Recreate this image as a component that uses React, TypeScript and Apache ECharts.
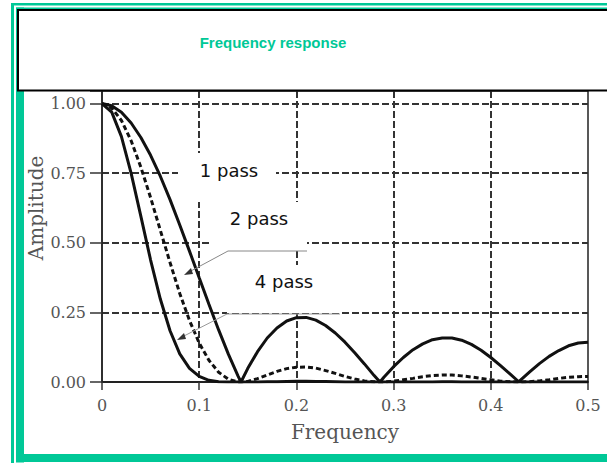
import React, { useEffect, useRef } from "react";
import * as echarts from "echarts";

// Normalised frequency samples (fraction of the sampling rate)
const freq = [
  0, 0.01, 0.02, 0.03, 0.04, 0.05, 0.06, 0.07, 0.08, 0.09, 0.1, 0.11, 0.12, 0.13, 0.14, 0.143,
  0.15, 0.16, 0.17, 0.18, 0.19, 0.2, 0.21, 0.22, 0.23, 0.24, 0.25, 0.26, 0.27, 0.28, 0.286,
  0.29, 0.3, 0.31, 0.32, 0.33, 0.34, 0.35, 0.36, 0.37, 0.38, 0.39, 0.4, 0.41, 0.42, 0.429,
  0.43, 0.44, 0.45, 0.46, 0.47, 0.48, 0.49, 0.5,
];

// Amplitude of the moving-average filter after one pass
const onePass = [
  1.0, 0.992, 0.969, 0.93, 0.878, 0.814, 0.739, 0.655, 0.564, 0.47, 0.374, 0.279, 0.187, 0.1, 0.021, 0,
  0.049, 0.109, 0.158, 0.194, 0.219, 0.231, 0.232, 0.222, 0.203, 0.176, 0.143, 0.105, 0.065, 0.023, 0,
  0.017, 0.055, 0.088, 0.116, 0.137, 0.152, 0.158, 0.158, 0.15, 0.135, 0.114, 0.088, 0.059, 0.028, 0,
  0.005, 0.036, 0.066, 0.092, 0.113, 0.13, 0.14, 0.143,
];

// Amplitude after two passes
const twoPass = [
  1.0, 0.984, 0.939, 0.866, 0.771, 0.662, 0.545, 0.429, 0.318, 0.221, 0.14, 0.078, 0.035, 0.01, 0.0, 0,
  0.002, 0.012, 0.025, 0.038, 0.048, 0.053, 0.054, 0.05, 0.041, 0.031, 0.02, 0.011, 0.004, 0.001, 0,
  0.0, 0.003, 0.008, 0.013, 0.019, 0.023, 0.025, 0.025, 0.022, 0.018, 0.013, 0.008, 0.003, 0.001, 0,
  0.0, 0.001, 0.004, 0.008, 0.013, 0.017, 0.019, 0.02,
];

// Amplitude after four passes
const fourPass = [
  1.0, 0.969, 0.881, 0.749, 0.595, 0.438, 0.298, 0.184, 0.101, 0.049, 0.02, 0.006, 0.001, 0.0, 0.0, 0,
  0, 0, 0.001, 0.001, 0.002, 0.003, 0.003, 0.002, 0.002, 0.001, 0, 0, 0, 0, 0,
  0, 0, 0, 0, 0, 0, 0.001, 0.001, 0, 0, 0, 0, 0, 0, 0,
  0, 0, 0, 0, 0, 0, 0, 0,
];

const yTicks = [0, 0.25, 0.5, 0.75, 1.0];
const passLabels = ["1 pass", "2 pass", "4 pass"];
const chartTitle = "Frequency response";

const GREEN = "#00c897";
const INK = "#111";
const SERIF = "'DejaVu Serif', 'Liberation Serif', serif";
const SANS = "'DejaVu Sans', 'Noto Sans', sans-serif";

function pairs(ys: number[]) {
  return freq.map((f, i) => [f, ys[i]]);
}

// white callout panel with its caption
function labelBox(text: string, x: number, y: number, w: number, h: number, cx: number, cy: number) {
  return {
    type: "group",
    z: 100,
    children: [
      { type: "rect", shape: { x, y, width: w, height: h }, style: { fill: "#fff" }, z: 100 },
      {
        type: "text",
        x: cx,
        y: cy,
        z: 101,
        style: {
          text,
          fill: INK,
          font: `18px ${SANS}`,
          textAlign: "center",
          textVerticalAlign: "middle",
        },
      },
    ],
  };
}

export default function App() {
  const ref = useRef<HTMLDivElement>(null);

  useEffect(() => {
    if (!ref.current) return;
    const chart = echarts.init(ref.current, undefined, { renderer: "svg" });

    const lineSeries = (name: string, ys: number[], dashed: boolean) => ({
      name,
      type: "line",
      data: pairs(ys),
      showSymbol: false,
      symbol: "none",
      z: 5,
      lineStyle: { color: INK, width: 3, type: dashed ? [5, 3] : "solid" },
    });

    const gridStyle = { color: "#333", width: 2, type: [7, 3] };

    chart.setOption({
      animation: false,
      backgroundColor: "#fff",
      grid: {
        left: 102,
        right: 19,
        top: 91,
        bottom: 81,
        show: true,
        borderColor: "#222",
        borderWidth: 1.5,
        backgroundColor: "transparent",
      },
      xAxis: {
        type: "value",
        min: 0,
        max: 0.5,
        interval: 0.1,
        name: "Frequency",
        nameLocation: "middle",
        nameGap: 40,
        nameTextStyle: { fontFamily: SERIF, fontSize: 20, color: "#555" },
        axisLine: { show: true, lineStyle: { color: "#222", width: 2 } },
        axisTick: { show: true, length: 8, lineStyle: { color: "#333", width: 1.5 } },
        axisLabel: {
          fontFamily: SERIF,
          fontSize: 16,
          color: "#555",
          margin: 15,
        },
        splitLine: {
          show: true,
          showMinLine: false,
          showMaxLine: false,
          lineStyle: gridStyle,
        },
      },
      yAxis: {
        type: "value",
        min: 0,
        max: 1.045,
        interval: 0.25,
        axisLine: { show: true, lineStyle: { color: "#222", width: 1.5 } },
        axisTick: { show: true, length: 12, lineStyle: { color: "#333", width: 1.5 } },
        axisLabel: {
          fontFamily: SERIF,
          fontSize: 16,
          color: "#555",
          margin: 16,
          formatter: (v: number) =>
            yTicks.some((t) => Math.abs(t - v) < 1e-6) ? v.toFixed(2) : "",
        },
        splitLine: {
          show: true,
          showMinLine: false,
          showMaxLine: false,
          lineStyle: gridStyle,
        },
      },
      series: [
        lineSeries(passLabels[0], onePass, false),
        lineSeries(passLabels[1], twoPass, true),
        lineSeries(passLabels[2], fourPass, false),
      ],
      graphic: [
        // page frame
        { type: "rect", z: 90, shape: { x: 11, y: 3, width: 3, height: 460 }, style: { fill: GREEN } },
        { type: "rect", z: 90, shape: { x: 11, y: 3, width: 596, height: 2.5 }, style: { fill: GREEN } },
        { type: "rect", z: 90, shape: { x: 16, y: 7.5, width: 591, height: 2 }, style: { fill: GREEN } },
        { type: "rect", z: 90, shape: { x: 16, y: 7.5, width: 8, height: 455 }, style: { fill: GREEN } },
        { type: "rect", z: 90, shape: { x: 16, y: 454, width: 591, height: 8 }, style: { fill: GREEN } },
        // title panel
        {
          type: "rect",
          z: 95,
          shape: { x: 18, y: 10, width: 640, height: 80.5 },
          style: { fill: "#fff", stroke: "#000", lineWidth: 2 },
        },
        {
          type: "text",
          z: 96,
          x: 273,
          y: 42,
          style: {
            text: chartTitle,
            fill: GREEN,
            font: `bold 15px 'Liberation Sans', Arial, sans-serif`,
            textAlign: "center",
            textVerticalAlign: "middle",
          },
        },
        // y-axis caption
        {
          type: "text",
          z: 96,
          x: 36,
          y: 208,
          rotation: Math.PI / 2,
          style: {
            text: "Amplitude",
            fill: "#555",
            font: `20px ${SERIF}`,
            textAlign: "center",
            textVerticalAlign: "middle",
          },
        },
        // callout leaders
        {
          type: "polyline",
          z: 99,
          shape: { points: [[307, 251], [228, 251], [189, 272]] },
          style: { stroke: "#888", lineWidth: 1, fill: null },
        },
        {
          type: "polygon",
          z: 99,
          shape: { points: [[184, 275], [191, 268], [193, 274]] },
          style: { fill: "#333" },
        },
        {
          type: "polyline",
          z: 99,
          shape: { points: [[340, 314], [227, 314], [182, 337]] },
          style: { stroke: "#999", lineWidth: 1, fill: null },
        },
        {
          type: "polygon",
          z: 99,
          shape: { points: [[177, 340], [184, 333], [186, 339]] },
          style: { fill: "#333" },
        },
        labelBox(passLabels[0], 178, 153, 98, 49, 229, 170),
        labelBox(passLabels[1], 211, 202, 96, 48, 259, 218),
        labelBox(passLabels[2], 227, 265, 113, 48, 284, 281),
      ],
    });

    return () => chart.dispose();
  }, []);

  return (
    <div
      ref={ref}
      style={{ position: "fixed", left: 0, top: 0, width: 607, height: 463 }}
    />
  );
}
